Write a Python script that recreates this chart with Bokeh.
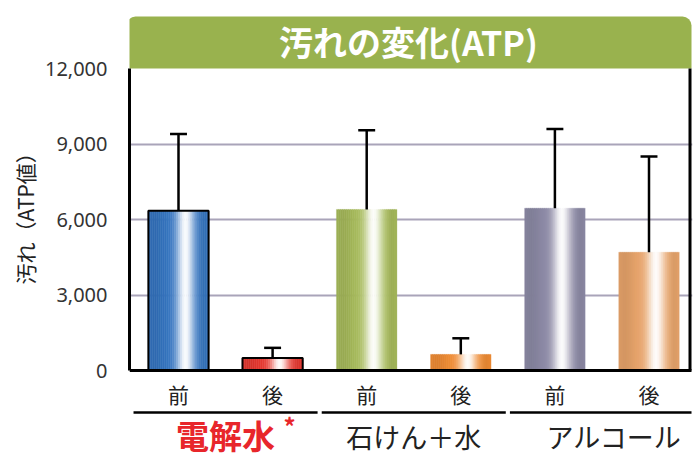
import numpy as np
from bokeh.plotting import figure
from bokeh.models import ColumnDataSource, Range1d, FixedTicker, NumeralTickFormatter, Title
from bokeh.core.properties import value
from bokeh.embed import file_html
from bokeh.resources import INLINE

# ---- data ----
groups = ["電解水", "石けん＋水", "アルコール"]
phases = ["前", "後"]
before_vals = [6350, 6400, 6450]
after_vals = [500, 640, 4700]
before_err = [9400, 9550, 9600]
after_err = [900, 1280, 8500]
bar_colors = ["#3474c0", "#e6372f", "#a6ba5a", "#f08c34", "#8d8aa6", "#e8a56c"]
outlined = [True, True, False, False, False, False]
title_text = "汚れの変化(ATP)"
y_label = "汚れ（ATP値）"
y_ticks = [0, 3000, 6000, 9000, 12000]
grid_ticks = [3000, 6000, 9000]

# interleave
vals, errs, labels = [], [], []
for g in range(len(groups)):
    vals += [before_vals[g], after_vals[g]]
    errs += [before_err[g], after_err[g]]
    labels += phases
xs = list(range(len(vals)))

# ---- geometry ----
W, H = 694, 457
LEFT, RIGHT = 129, 692
K = 12000 / 302.0           # data units per pixel
PX = 94.1                   # pixels per category step
x0 = (LEFT - 178) / PX
x1 = (RIGHT - 178) / PX
y1 = 68 * K + 12000
y0 = -(H - 370) * K
FONT = "Noto Sans CJK JP"

def ys(s):
    return (370 - s) * K

def xsx(s):
    return (s - 178) / PX

p = figure(width=W, height=H, output_backend="svg", toolbar_location=None,
           x_range=Range1d(x0, x1), y_range=Range1d(y0, y1),
           min_border_left=LEFT, min_border_right=W - RIGHT, min_border_top=0, min_border_bottom=0)
p.outline_line_color = None
p.background_fill_color = "white"
p.border_fill_color = "white"
p.xaxis.visible = False
p.xgrid.visible = False

# y axis
ya = p.yaxis[0]
ya.bounds = (0, 12000)
ya.ticker = FixedTicker(ticks=y_ticks)
ya.formatter = NumeralTickFormatter(format="0,0")
ya.axis_line_color = "black"
ya.axis_line_width = 3
ya.major_tick_line_color = None
ya.minor_tick_line_color = None
ya.major_tick_out = 0
ya.major_tick_in = 0
ya.major_label_standoff = 22
ya.major_label_text_font = "Noto Sans"
ya.major_label_text_font_size = "20px"
ya.major_label_text_color = "#333333"

p.add_layout(Title(text=y_label, align="left", offset=H - 284, standoff=3,
                   text_font=FONT, text_font_size="21px", text_font_style="normal",
                   text_color="#222222"), "left")

p.ygrid.ticker = FixedTicker(ticks=grid_ticks)
p.ygrid.grid_line_color = "#a9a4b9"
p.ygrid.grid_line_width = 2

# header
p.quad(left=[xsx(126)], right=[xsx(691)], bottom=[12000], top=[ys(16)], fill_color="#99b24e",
       line_color=None, border_radius=(9, 9, 0, 0))
p.text(x=[xsx(408)], y=[ys(41)], text=[title_text], text_font=value(FONT),
       text_font_style="bold", text_font_size="34px", text_color="white",
       text_align="center", text_baseline="middle")

# gradient bars
def hex2rgb(h):
    h = h.lstrip("#")
    return np.array([int(h[i:i + 2], 16) for i in (0, 2, 4)], dtype=float)

N = 30
bw = 0.64
sx, stop, scol = [], [], []
for i, v in enumerate(vals):
    base = hex2rgb(bar_colors[i])
    for k in range(N):
        t = (k + 0.5) / N
        f = 0.97 * np.exp(-((t - 0.62) / 0.15) ** 2)
        dark = 1.0 - 0.08 * np.exp(-((t - 0.1) / 0.15) ** 2) - 0.06 * np.exp(-((t - 0.92) / 0.08) ** 2)
        c = base * dark * (1 - f) + 255 * f
        c = np.clip(c, 0, 255).astype(int)
        sx.append(xs[i] - bw / 2 + t * bw)
        stop.append(v)
        scol.append("#%02x%02x%02x" % tuple(c))
src = ColumnDataSource(dict(x=sx, top=stop, color=scol))
p.vbar(x="x", top="top", bottom=0, width=bw / N * 1.15, fill_color="color",
       line_color="color", line_width=0.3, source=src)

ox = [x for x, o in zip(xs, outlined) if o]
ov = [v for v, o in zip(vals, outlined) if o]
p.vbar(x=ox, top=ov, bottom=0, width=bw, fill_color=None, line_color="black", line_width=2)

# error bars
p.segment(x0=xs, y0=vals, x1=xs, y1=errs, line_color="black", line_width=2.5)
p.segment(x0=[x - 0.09 for x in xs], y0=errs, x1=[x + 0.09 for x in xs], y1=errs,
          line_color="black", line_width=2.5)

# baseline and right border
p.segment(x0=[x0], y0=[0], x1=[xsx(691)], y1=[0], line_color="black", line_width=3)
p.segment(x0=[xsx(689.5)], y0=[0], x1=[xsx(689.5)], y1=[12000], line_color="black", line_width=3)

# category labels
p.text(x=xs, y=[ys(393)] * len(xs), text=labels, text_font=value(FONT),
       text_font_size="21px", text_color="#222222", text_align="center", text_baseline="middle")

# group lines
gl0 = [2 * g - 0.478 for g in range(len(groups))]
gl1 = [2 * g + 1.478 for g in range(len(groups))]
gl1[-1] = xsx(691)
p.segment(x0=gl0, y0=[ys(412)] * 3, x1=gl1, y1=[ys(412)] * 3, line_color="black", line_width=2.5)

# group labels
gc = [2 * g + 0.5 for g in range(len(groups))]
p.text(x=[gc[0]], y=[ys(434)], text=[groups[0]], text_font=value(FONT), text_font_style="bold",
       text_font_size="33px", text_color="#e8262b", text_align="center", text_baseline="middle")
p.text(x=[xsx(289)], y=[ys(425)], text=["*"], text_font=value(FONT), text_font_style="bold",
       text_font_size="24px", text_color="#e8262b", text_align="center", text_baseline="middle")
p.text(x=gc[1:], y=[ys(436)] * 2, text=groups[1:], text_font=value(FONT),
       text_font_size="27px", text_color="#222222", text_align="center", text_baseline="middle",
       x_offset=[0, 12])

open("out.html", "w").write(file_html(p, INLINE))
